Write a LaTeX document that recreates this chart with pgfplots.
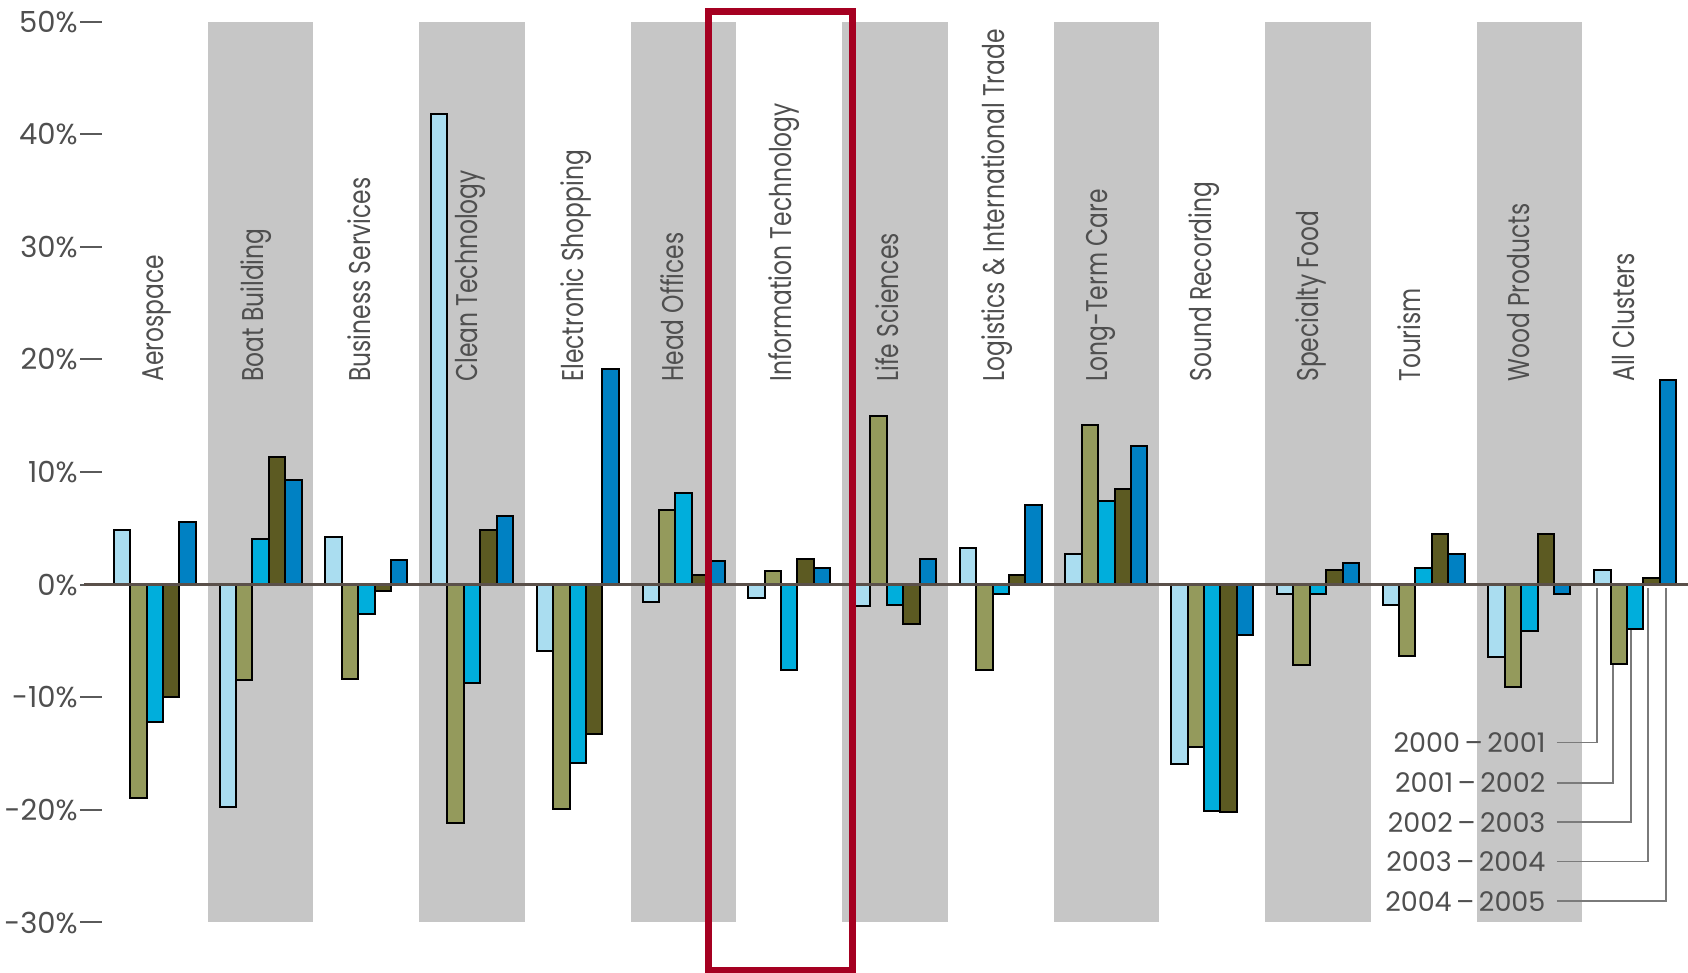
\documentclass[border=0pt]{standalone}
\usepackage{fontspec}
\setmainfont{Poppins}
\newfontfamily\condfont[FakeStretch=0.78]{Poppins}
\usepackage{pgfplots}
\pgfplotsset{compat=1.18}
\usepackage{pgfplotstable}

\definecolor{cA}{HTML}{AADDF0}
\definecolor{cB}{HTML}{949A5C}
\definecolor{cC}{HTML}{00AEDC}
\definecolor{cD}{HTML}{5C5A22}
\definecolor{cE}{HTML}{0081C3}
\definecolor{bandgray}{HTML}{C6C6C6}
\definecolor{textgray}{HTML}{4F4F4F}
\definecolor{tickgray}{HTML}{5A5A5A}
\definecolor{zerocol}{HTML}{5A504A}
\definecolor{leadgray}{HTML}{7A7A7A}
\definecolor{boxred}{HTML}{A50021}

\pgfplotstableread{
x s1 s2 s3 s4 s5
0 4.9 -18.9 -12.2 -10.0 5.6
1 -19.7 -8.5 4.1 11.3 9.3
2 4.2 -8.4 -2.6 -0.6 2.2
3 41.8 -21.2 -8.7 4.9 6.1
4 -5.9 -19.9 -15.8 -13.3 19.2
5 -1.5 6.6 8.1 0.9 2.1
6 -1.2 1.2 -7.6 2.3 1.5
7 -1.9 15.0 -1.8 -3.5 2.3
8 3.3 -7.6 -0.8 0.9 7.1
9 2.7 14.2 7.4 8.5 12.3
10 -15.9 -14.4 -20.1 -20.2 -4.5
11 -0.8 -7.1 -0.8 1.3 1.9
12 -1.8 -6.3 1.5 4.5 2.7
13 -6.4 -9.1 -4.1 4.5 -0.8
14 1.3 -7.0 -3.9 0.6 18.2
}\datatable

\begin{document}
\begin{tikzpicture}[x=1pt,y=1pt]
\useasboundingbox (0,0) rectangle (844,486.5);
\begin{axis}[
  at={(51pt,25.25pt)}, anchor=south west,
  scale only axis, width=793pt, height=450.4pt,
  xmin=-0.5, xmax=14.5, ymin=-30, ymax=50,
  axis line style={draw=none},
  xtick=\empty,
  ytick={-30,-20,-10,0,10,20,30,40,50},
  yticklabels={-30\%,-20\%,-10\%,0\%,10\%,20\%,30\%,40\%,50\%},
  tick align=outside, major tick length=11pt,
  ytick style={draw=tickgray, line width=1pt},
  yticklabel style={font=\fontsize{14.5}{15}\selectfont, text=textgray, inner sep=1pt},
  clip=false,
]
% alternating background bands
\fill[bandgray] (axis cs:0.5,-30) rectangle (axis cs:1.5,50);
\fill[bandgray] (axis cs:2.5,-30) rectangle (axis cs:3.5,50);
\fill[bandgray] (axis cs:4.5,-30) rectangle (axis cs:5.5,50);
\fill[bandgray] (axis cs:6.5,-30) rectangle (axis cs:7.5,50);
\fill[bandgray] (axis cs:8.5,-30) rectangle (axis cs:9.5,50);
\fill[bandgray] (axis cs:10.5,-30) rectangle (axis cs:11.5,50);
\fill[bandgray] (axis cs:12.5,-30) rectangle (axis cs:13.5,50);

\addplot[ybar, bar width=8.2pt, bar shift=-16.4pt, fill=cA, draw=black, line width=1pt] table[x=x,y=s1]{\datatable};
\addplot[ybar, bar width=8.2pt, bar shift=-8.2pt, fill=cB, draw=black, line width=1pt] table[x=x,y=s2]{\datatable};
\addplot[ybar, bar width=8.2pt, bar shift=0pt, fill=cC, draw=black, line width=1pt] table[x=x,y=s3]{\datatable};
\addplot[ybar, bar width=8.2pt, bar shift=8.2pt, fill=cD, draw=black, line width=1pt] table[x=x,y=s4]{\datatable};
\addplot[ybar, bar width=8.2pt, bar shift=16.4pt, fill=cE, draw=black, line width=1pt] table[x=x,y=s5]{\datatable};

% zero line
\draw[zerocol, line width=1.5pt] (axis cs:-0.67,0) -- (axis cs:14.5,0);

% category labels
\begin{scope}[every node/.style={rotate=90, anchor=mid west, inner sep=0pt, text=textgray, font=\condfont\fontsize{15}{16}\selectfont}]
\node at (axis cs:0.03,18) {Aerospace};
\node at (axis cs:0.98,18) {Boat Building};
\node at (axis cs:1.99,18) {Business Services};
\node at (axis cs:3.0,18) {Clean Technology};
\node at (axis cs:4.0,18) {Electronic Shopping};
\node at (axis cs:4.95,18) {Head Offices};
\node at (axis cs:5.97,18) {Information Technology};
\node at (axis cs:6.98,18) {Life Sciences};
\node at (axis cs:7.98,18) {Logistics \& International Trade};
\node at (axis cs:8.96,18) {Long-Term Care};
\node at (axis cs:9.94,18) {Sound Recording};
\node at (axis cs:10.95,18) {Specialty Food};
\node at (axis cs:11.92,18) {Tourism};
\node at (axis cs:12.95,18) {Wood Products};
\node at (axis cs:13.94,18) {All Clusters};
\end{scope}

% legend with leader lines
\begin{scope}[every node/.style={anchor=east, inner sep=0pt, text=textgray, font=\fontsize{13.5}{14}\selectfont}]
\node at (axis cs:13.155,-14.0) {2000\,\textendash\,2001};
\node at (axis cs:13.155,-17.6) {2001\,\textendash\,2002};
\node at (axis cs:13.155,-21.1) {2002\,\textendash\,2003};
\node at (axis cs:13.155,-24.6) {2003\,\textendash\,2004};
\node at (axis cs:13.155,-28.1) {2004\,\textendash\,2005};
\end{scope}
\draw[leadgray, line width=0.8pt] (axis cs:13.26,-14.0) -| (axis cs:13.64,-0.3);
\draw[leadgray, line width=0.8pt] (axis cs:13.26,-17.6) -| (axis cs:13.79,-7.1);
\draw[leadgray, line width=0.8pt] (axis cs:13.26,-21.1) -| (axis cs:13.96,-4.0);
\draw[leadgray, line width=0.8pt] (axis cs:13.26,-24.6) -| (axis cs:14.12,-0.3);
\draw[leadgray, line width=0.8pt] (axis cs:13.26,-28.1) -| (axis cs:14.29,-0.3);

% highlight box
\draw[boxred, line width=3.5pt] (axis cs:5.24,50.95) rectangle (axis cs:6.60,-34.3);
\end{axis}
\end{tikzpicture}
\end{document}
